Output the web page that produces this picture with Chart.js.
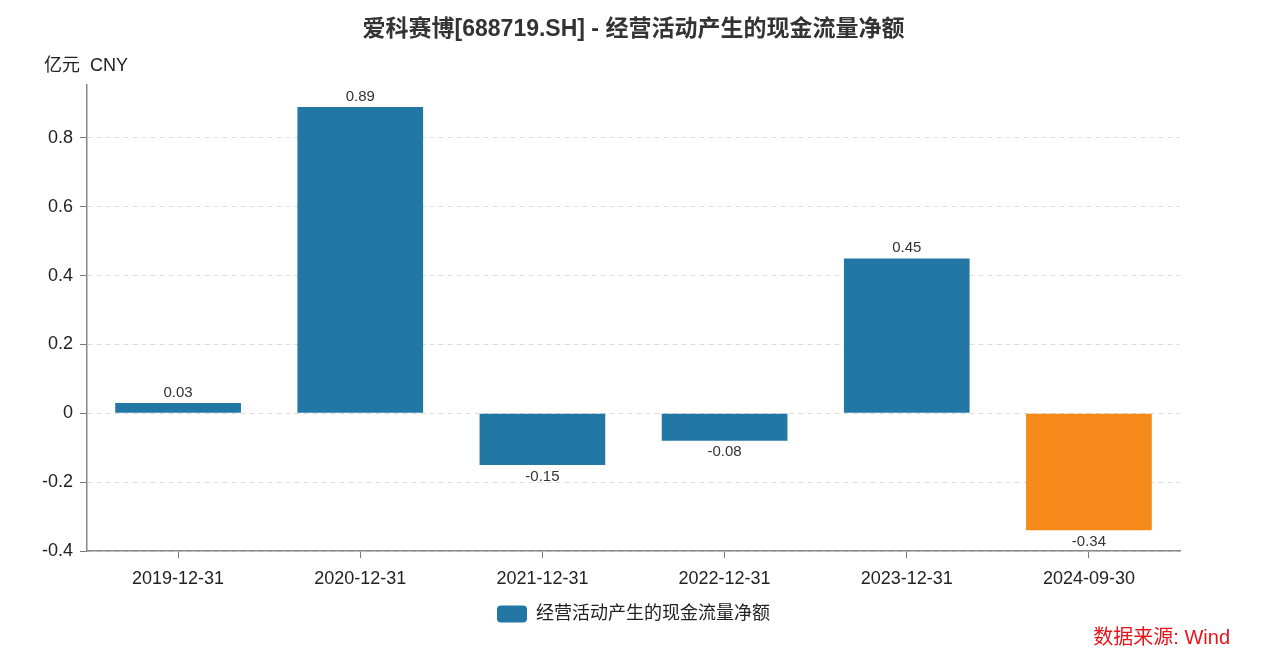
<!DOCTYPE html>
<html>
<head>
<meta charset="utf-8">
<script src="https://cdn.jsdelivr.net/npm/chart.js@4/dist/chart.umd.min.js"></script>
<style>
  html, body { margin: 0; padding: 0; background: #fff; }
  #wrap { width: 1267px; height: 662px; }
</style>
</head>
<body>
<div id="wrap"><canvas id="myChart"></canvas></div>
<script>
const categories = ["2019-12-31", "2020-12-31", "2021-12-31", "2022-12-31", "2023-12-31", "2024-09-30"];
const cashFlow = [0.03, 0.89, -0.15, -0.08, 0.45, -0.34];
const yTicks = [-0.4, -0.2, 0, 0.2, 0.4, 0.6, 0.8];

const FONT = "'Liberation Sans', 'Noto Sans CJK SC', sans-serif";
const BLUE = '#2277a4';
const ORANGE = '#f5891a';

// value labels above / below each bar
const barLabels = {
    id: 'barLabels',
    afterDatasetsDraw(chart) {
        const ctx = chart.ctx;
        const meta = chart.getDatasetMeta(0);
        ctx.save();
        ctx.font = '15px ' + FONT;
        ctx.fillStyle = '#333';
        ctx.textAlign = 'center';
        meta.data.forEach((bar, i) => {
            const v = cashFlow[i];
            if (v >= 0) {
                ctx.textBaseline = 'bottom';
                ctx.fillText(v.toFixed(2), bar.x, bar.y - 3);
            } else {
                ctx.textBaseline = 'top';
                ctx.fillText(v.toFixed(2), bar.x, bar.y + 4);
            }
        });
        ctx.restore();
    }
};

// unit text and source note
const extraText = {
    id: 'extraText',
    afterDraw(chart) {
        const ctx = chart.ctx;
        ctx.save();
        ctx.font = '18px ' + FONT;
        ctx.fillStyle = '#222';
        ctx.textAlign = 'left';
        ctx.textBaseline = 'middle';
        ctx.fillText('亿元  CNY', 44, 66);
        ctx.font = '20px ' + FONT;
        ctx.fillStyle = '#e8141c';
        ctx.textAlign = 'right';
        ctx.fillText('数据来源: Wind', 1230, 638);
        ctx.restore();
    }
};

function createChart() {
    const ctx = document.getElementById('myChart').getContext('2d');
    new Chart(ctx, {
        type: 'bar',
        data: {
            labels: categories,
            datasets: [{
                label: '经营活动产生的现金流量净额',
                data: cashFlow,
                backgroundColor: c => (c.dataIndex === cashFlow.length - 1 ? ORANGE : BLUE),
                borderWidth: 0,
                barPercentage: 0.69,
                categoryPercentage: 1
            }]
        },
        options: {
            responsive: true,
            maintainAspectRatio: false,
            animation: false,
            layout: {
                padding: { left: 0, right: 0, top: 0, bottom: 29 }
            },
            plugins: {
                title: {
                    display: true,
                    text: '爱科赛博[688719.SH] - 经营活动产生的现金流量净额',
                    color: '#333',
                    font: { family: FONT, size: 23, weight: 'bold' },
                    padding: { top: 16, bottom: 41 }
                },
                legend: {
                    position: 'bottom',
                    labels: {
                        color: '#222',
                        font: { family: FONT, size: 18 },
                        boxWidth: 30,
                        boxHeight: 17,
                        useBorderRadius: true,
                        borderRadius: 4,
                        padding: 8
                    }
                },
                tooltip: { enabled: false }
            },
            scales: {
                x: {
                    offset: true,
                    grid: {
                        offset: false,
                        drawOnChartArea: false,
                        tickLength: 7,
                        tickColor: '#777'
                    },
                    border: { color: '#888', width: 1.5 },
                    ticks: {
                        color: '#222',
                        padding: 10,
                        font: { family: FONT, size: 18 }
                    },
                    afterFit(scale) { scale.height = 46; }
                },
                y: {
                    min: -0.4,
                    max: 0.955,
                    afterBuildTicks(scale) {
                        scale.ticks = yTicks.map(v => ({ value: v }));
                    },
                    grid: {
                        color: '#dddddd',
                        tickColor: '#777',
                        tickLength: 7,
                        tickBorderDash: []
                    },
                    border: { color: '#888', width: 1.5, dash: [5, 4] },
                    ticks: {
                        color: '#222',
                        padding: 7,
                        font: { family: FONT, size: 18 },
                        callback: v => String(Math.round(v * 10) / 10)
                    },
                    afterFit(scale) { scale.width = 87; }
                },
                // empty right-hand axis, only reserves the right margin
                yRight: {
                    position: 'right',
                    display: true,
                    grid: { display: false },
                    border: { display: false },
                    ticks: { display: false },
                    afterFit(scale) { scale.width = 87; }
                }
            }
        },
        plugins: [barLabels, extraText]
    });
}
createChart()
</script>
</body>
</html>
